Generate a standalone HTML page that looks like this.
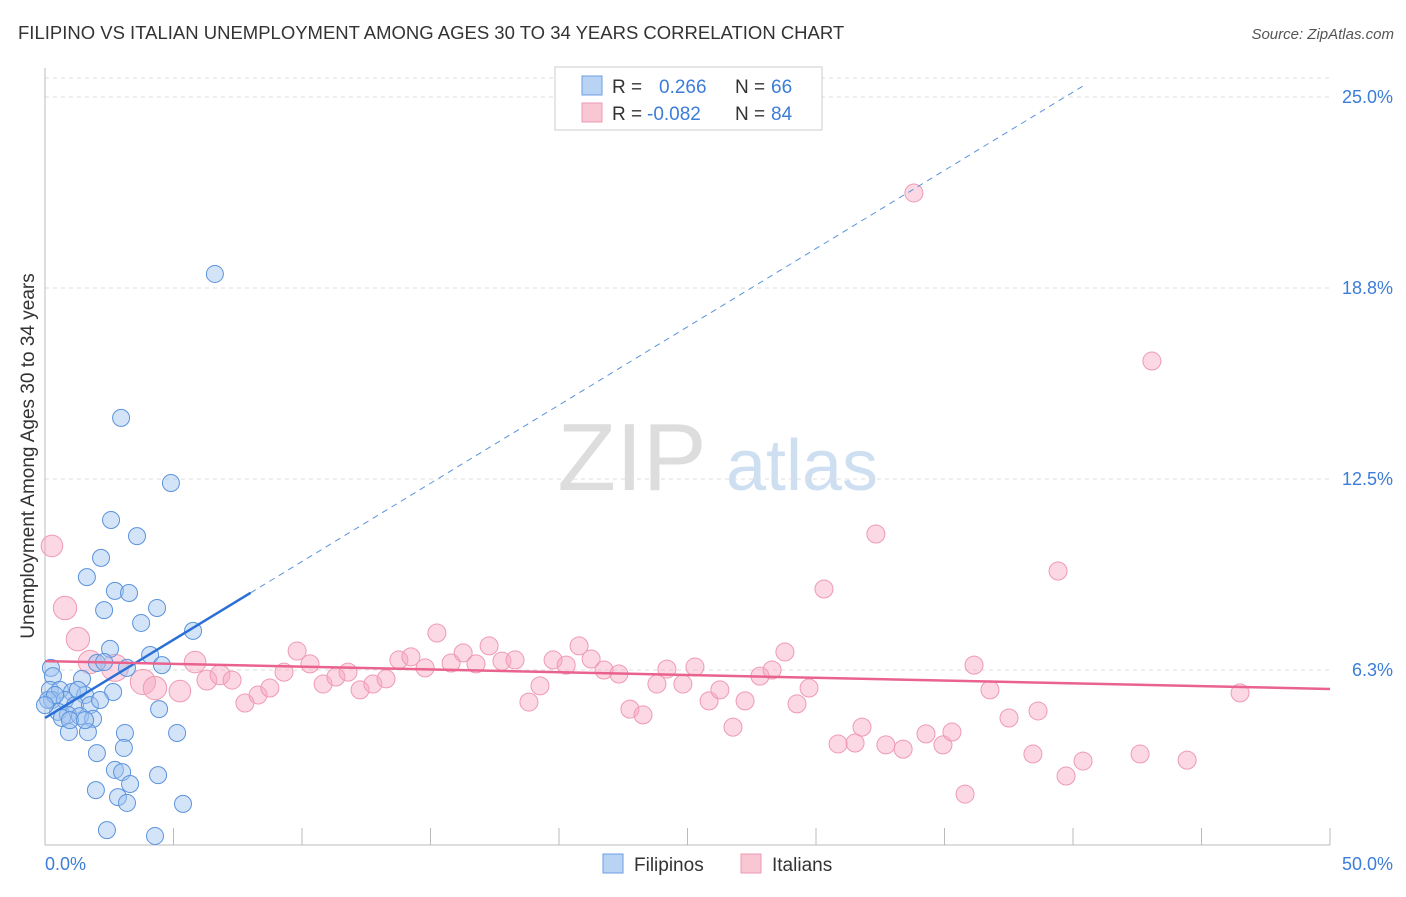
<!DOCTYPE html>
<html><head><meta charset="utf-8"><style>
body{margin:0;background:#fff;font-family:"Liberation Sans",sans-serif;}
svg text{font-family:"Liberation Sans",sans-serif;}
</style></head><body>
<svg width="1406" height="892" id="chart">
<text x="18" y="39" font-size="18.5" fill="#333">FILIPINO VS ITALIAN UNEMPLOYMENT AMONG AGES 30 TO 34 YEARS CORRELATION CHART</text>
<text x="1394" y="39" font-size="15" fill="#555" text-anchor="end" font-style="italic">Source: ZipAtlas.com</text>
<g>
<text x="632" y="490" font-size="96" fill="#ddd" font-family="Liberation Serif" text-anchor="middle">ZIP</text>
<text x="802" y="490" font-size="72" fill="#cfdff2" text-anchor="middle">atlas</text>
</g>
<g id="grid"></g>
<g id="axes"></g>
<g id="pts"></g>
<g id="lines"></g>
<text transform="translate(34,456) rotate(-90)" font-size="19" fill="#333" text-anchor="middle">Unemployment Among Ages 30 to 34 years</text>
<g>
<rect x="555" y="67" width="267" height="63" fill="#fff" stroke="#ccc"/>
<rect x="582" y="76" width="20" height="19" fill="#b9d3f4" stroke="#6d9de0"/>
<rect x="582" y="103" width="20" height="19" fill="#f9c6d4" stroke="#ee9ab2"/>
<text x="612" y="93" font-size="19" fill="#333">R =</text>
<text x="659" y="93" font-size="19" fill="#3b7dd8">0.266</text>
<text x="735" y="93" font-size="19" fill="#333">N =</text>
<text x="771" y="93" font-size="19" fill="#3b7dd8">66</text>
<text x="612" y="120" font-size="19" fill="#333">R =</text>
<text x="647" y="120" font-size="19" fill="#3b7dd8">-0.082</text>
<text x="735" y="120" font-size="19" fill="#333">N =</text>
<text x="771" y="120" font-size="19" fill="#3b7dd8">84</text>
</g>
<g>
<rect x="603" y="854" width="20" height="19" fill="#b9d3f4" stroke="#6d9de0"/>
<text x="634" y="871" font-size="19" fill="#333">Filipinos</text>
<rect x="741" y="854" width="20" height="19" fill="#f9c6d4" stroke="#ee9ab2"/>
<text x="772" y="871" font-size="19" fill="#333">Italians</text>
</g>
</svg>
<script>
const yTicks=[6.25,12.5,18.75,25];
const yTickLabels=["6.3%","12.5%","18.8%","25.0%"];
const xTicks=[5,10,15,20,25,30,35,40,45,50];
const filX=[6.61,2.96,4.90,2.57,3.58,2.18,1.63,2.72,3.27,2.30,4.36,3.74,5.76,2.53,4.09,2.02,0.23,2.30,4.55,3.19,0.31,1.44,0.19,0.58,1.05,1.56,2.65,0.27,0.78,1.17,1.75,0.51,0.89,1.36,1.87,4.44,0.66,1.67,0.93,5.14,3.11,3.07,2.02,2.72,3.00,4.40,1.98,3.31,2.84,3.19,5.37,2.41,4.28,0.12,0.39,0.97,1.56,2.14,0.0,1.28];
const filY=[19.21,14.50,12.37,11.16,10.63,9.92,9.29,8.84,8.77,8.21,8.28,7.79,7.53,6.94,6.74,6.48,6.32,6.51,6.41,6.32,6.05,5.96,5.60,5.60,5.53,5.43,5.53,5.27,5.27,5.10,5.10,4.88,4.78,4.74,4.65,4.97,4.68,4.22,4.22,4.19,4.19,3.70,3.53,2.98,2.91,2.81,2.32,2.52,2.09,1.90,1.87,1.01,0.82,5.27,5.43,4.61,4.61,5.27,5.10,5.60];
const itaX=[0.27,0.78,1.28,1.75,2.72,3.81,4.28,5.25,5.84,6.30,6.81,7.28,7.78,8.29,8.75,9.30,9.81,10.31,10.82,11.32,11.79,12.26,12.76,13.27,13.77,14.24,14.79,15.25,15.80,16.27,16.77,17.28,17.78,18.29,18.83,19.26,19.77,20.28,20.78,21.25,21.75,22.33,22.76,23.27,23.81,24.20,24.82,25.29,25.84,26.26,26.77,27.24,27.82,28.29,28.79,29.26,29.73,30.31,30.86,31.52,31.79,32.33,32.72,33.39,33.81,34.28,34.94,35.29,35.80,36.15,36.77,37.51,38.44,38.64,39.42,39.73,40.39,42.61,43.07,44.44,46.50];
const itaY=[10.31,8.28,7.26,6.51,6.32,5.86,5.66,5.56,6.51,5.92,6.09,5.92,5.17,5.43,5.66,6.18,6.87,6.45,5.79,6.02,6.18,5.60,5.79,5.96,6.58,6.68,6.32,7.46,6.48,6.81,6.45,7.04,6.54,6.58,5.20,5.73,6.58,6.41,7.04,6.61,6.25,6.12,4.97,4.78,5.79,6.28,5.79,6.35,5.24,5.60,4.38,5.24,6.05,6.25,6.84,5.14,5.66,8.90,3.83,3.86,4.38,10.70,3.80,3.66,21.86,4.16,3.80,4.22,2.19,6.41,5.60,4.68,3.50,4.91,9.49,2.78,3.27,3.50,16.36,3.30,5.50];
const itaW=[1.2,1.3,1.3,1.3,1.5,1.4,1.3,1.2,1.2,1.1,1.1];
const filTrend=[4.68,0.512];
const itaTrend=[6.54,-0.0182];
const sx=v=>45+v*25.7, sy=v=>861-v*30.56;
const NS="http://www.w3.org/2000/svg";
function mk(p,t,a){const e=document.createElementNS(NS,t);for(const k in a)e.setAttribute(k,a[k]);document.getElementById(p).appendChild(e);return e;}
yTicks.forEach((t,i)=>{
 const g=mk('grid','line',{x1:45,x2:1330,y1:sy(t),y2:sy(t),stroke:'#ddd','stroke-dasharray':'4,4'});
 
 
 const tx=mk('grid','text',{x:1393,y:sy(t)+6,'font-size':18,fill:'#3b7dd8','text-anchor':'end'});
 tx.textContent=yTickLabels[i];
 
 
});
const topLine=mk('grid','line',{x1:45,x2:1330,y1:78,y2:78,stroke:'#ddd','stroke-dasharray':'4,4'});


const ya=mk('axes','line',{x1:45,x2:45,y1:68,y2:845,stroke:'#bbb'});


const xa=mk('axes','line',{x1:45,x2:1330,y1:845,y2:845,stroke:'#bbb'});


xTicks.forEach(t=>{
 const l=mk('axes','line',{x1:sx(t),x2:sx(t),y1:828,y2:845,stroke:'#bbb'});
 
 
});
const x0=mk('axes','text',{x:45,y:870,'font-size':18,fill:'#3b7dd8'});x0.textContent='0.0%';


const x1=mk('axes','text',{x:1393,y:870,'font-size':18,fill:'#3b7dd8','text-anchor':'end'});x1.textContent='50.0%';


itaX.forEach((v,i)=>{
 const c=mk('pts','circle',{cx:sx(v),cy:sy(itaY[i]),r:9*(itaW[i]||1),fill:'rgba(246,168,192,0.45)',stroke:'#ef9ab4','stroke-width':1});
 
 
});
filX.forEach((v,i)=>{
 const c=mk('pts','circle',{cx:sx(v),cy:sy(filY[i]),r:8.5,fill:'rgba(160,196,240,0.45)',stroke:'#5b93dd','stroke-width':1});
 
 
});
const fy=x=>filTrend[0]+filTrend[1]*x;
const fs=mk('lines','line',{x1:sx(0),y1:sy(fy(0)),x2:sx(8),y2:sy(fy(8)),stroke:'#2a6fd6','stroke-width':2.5});


const fd=mk('lines','line',{x1:sx(8),y1:sy(fy(8)),x2:sx(40.5),y2:sy(fy(40.5)),stroke:'#5b93dd','stroke-width':1,'stroke-dasharray':'6,5'});


const iy=x=>itaTrend[0]+itaTrend[1]*x;
const il=mk('lines','line',{x1:sx(0),y1:sy(iy(0)),x2:sx(50),y2:sy(iy(50)),stroke:'#e9638e','stroke-width':2.5});


</script>
</body></html>
